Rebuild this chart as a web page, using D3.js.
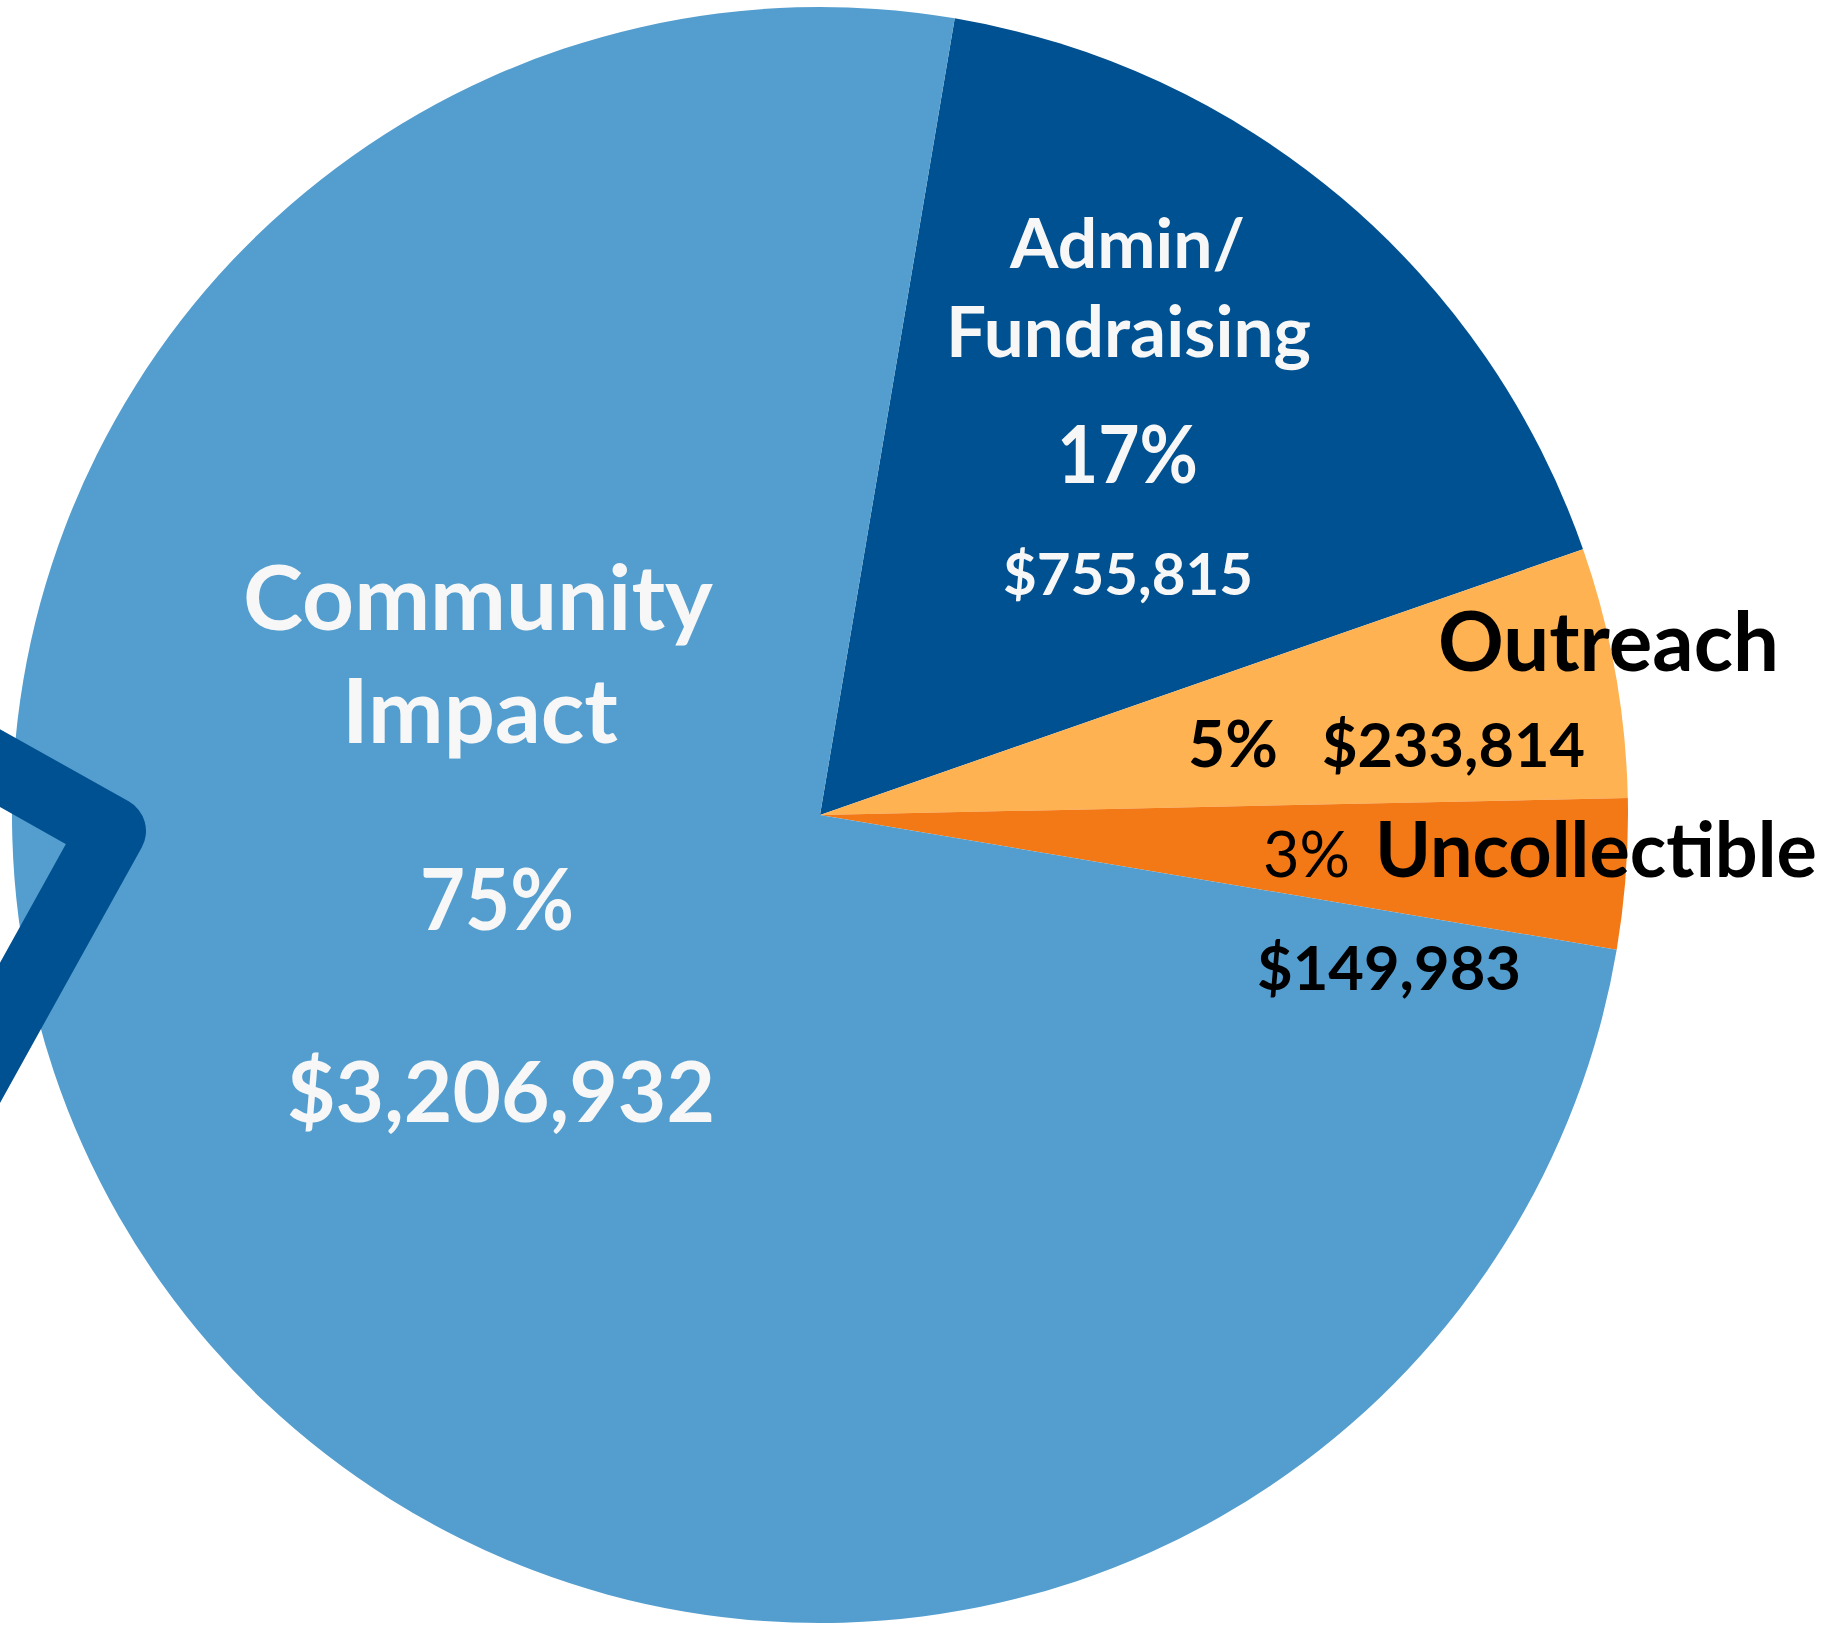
<!DOCTYPE html>
<html>
<head>
<meta charset="utf-8">
<script src="https://cdn.jsdelivr.net/npm/d3@7"></script>
<style>
  html, body { margin: 0; padding: 0; background: #ffffff; }
  svg { display: block; }
  text { font-family: "Lato", "Noto Sans", sans-serif; }
</style>
</head>
<body>
<svg id="chart" width="1830" height="1626"></svg>
<script>
// ---- data ----
const categories = ["Admin/Fundraising", "Outreach", "Uncollectible", "Community Impact"];
const percents   = [17, 5, 3, 75];
const amounts    = ["$755,815", "$233,814", "$149,983", "$3,206,932"];
const colors     = ["#005191", "#FEB252", "#F37916", "#549ECF"];

// ---- layout ----
const W = 1830, H = 1626;
const cx = 820, cy = 815, R = 808;
const start = 9.6 * Math.PI / 180;

const svg = d3.select("#chart");
svg.append("rect").attr("width", W).attr("height", H).attr("fill", "#ffffff");

const pie = d3.pie().sort(null).value(d => d.pct)
  .startAngle(start).endAngle(start + 2 * Math.PI);
const arc = d3.arc().innerRadius(0).outerRadius(R);

const rows = categories.map((c, i) => ({ cat: c, pct: percents[i], amt: amounts[i], color: colors[i] }));

const g = svg.append("g").attr("transform", `translate(${cx},${cy})`);
g.selectAll("path.slice")
  .data(pie(rows))
  .join("path")
  .attr("class", "slice")
  .attr("d", arc)
  .attr("fill", d => d.data.color);

// ---- decorative chevron ----
const chevron = [[-100, 712], [112, 831], [-100, 1213]];
svg.append("path")
  .attr("d", d3.line()(chevron))
  .attr("fill", "none")
  .attr("stroke", "#005191")
  .attr("stroke-width", 68)
  .attr("stroke-linejoin", "round");

// ---- labels: x0/x1 = horizontal extent, y = baseline ----
const white = "#F7F7F7", black = "#000000";
const labels = [
  // Community Impact
  { t: "Community", x0: 243, x1: 713, y: 630, size: 91, w: 700, fill: white },
  { t: "Impact", x0: 342, x1: 618, y: 743, size: 91, w: 700, fill: white },
  { t: percents[3] + "%", x0: 420, x1: 574, y: 930, size: 86, w: 700, fill: white, stretch: true },
  { t: amounts[3], x0: 287, x1: 715, y: 1122, size: 86, w: 700, fill: white },
  // Admin
  { t: "Admin/", x0: 1010, x1: 1245, y: 268, size: 67, w: 700, fill: white },
  { t: "Fundraising", x0: 946, x1: 1311, y: 357, size: 67, w: 700, fill: white },
  { t: percents[0] + "%", x0: 1057, x1: 1198, y: 483, size: 80, w: 700, fill: white, stretch: true },
  { t: amounts[0], x0: 1003, x1: 1253, y: 595, size: 66, w: 700, fill: white },
  // Outreach
  { t: "Outreach", x0: 1438, x1: 1779, y: 671, size: 84, w: 700, fill: black },
  { t: percents[1] + "%", x0: 1188, x1: 1278, y: 767, size: 66, w: 700, fill: black },
  { t: amounts[1], x0: 1322, x1: 1585, y: 767, size: 66, w: 700, fill: black },
  // Uncollectible
  { t: percents[2] + "%", x0: 1263, x1: 1350, y: 877, size: 70, w: 400, fill: black },
  { t: "Uncollectible", x0: 1375, x1: 1817, y: 877, size: 80, w: 700, fill: black },
  { t: amounts[2], x0: 1257, x1: 1521, y: 990, size: 66, w: 700, fill: black }
];

svg.selectAll("text.lbl")
  .data(labels)
  .join("text")
  .attr("class", "lbl")
  .attr("x", d => (d.x0 + d.x1) / 2)
  .attr("y", d => d.y)
  .attr("text-anchor", "middle")
  .attr("font-size", d => d.size)
  .attr("font-weight", d => d.w)
  .attr("fill", d => d.fill)
  .text(d => d.t)
  .each(function (d) {
    const target = d.x1 - d.x0;
    if (d.stretch) {
      d3.select(this)
        .attr("textLength", target)
        .attr("lengthAdjust", "spacingAndGlyphs");
      return;
    }
    const len = this.getComputedTextLength();
    if (len > 0) {
      const s = d.size * target / len;
      d3.select(this).attr("font-size", s.toFixed(2));
    }
  });
</script>
</body>
</html>
